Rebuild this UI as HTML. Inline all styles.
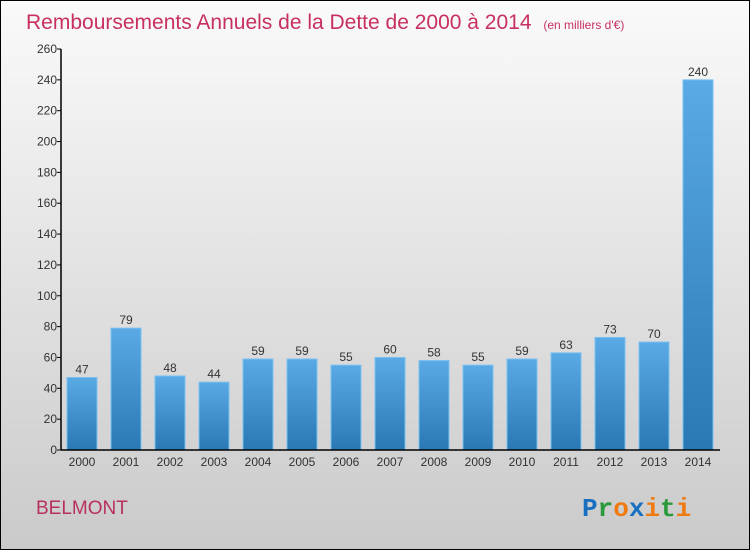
<!DOCTYPE html>
<html><head><meta charset="utf-8"><style>
body{margin:0;}
#wrap{width:750px;height:550px;position:relative;font-family:"Liberation Sans",sans-serif;}
</style></head><body>
<div id="wrap">
<svg id="svg" width="750" height="550" xmlns="http://www.w3.org/2000/svg">
<defs>
<linearGradient id="bg" x1="0" y1="0" x2="0" y2="1"><stop offset="0" stop-color="#fafafa"/><stop offset="1" stop-color="#cacaca"/></linearGradient>
<linearGradient id="bar" x1="0" y1="0" x2="0" y2="1"><stop offset="0" stop-color="#5aaae6"/><stop offset="1" stop-color="#2a78b4"/></linearGradient>
</defs>
<rect x="0.5" y="0.5" width="749" height="549" fill="url(#bg)" stroke="#000"/>
<text x="26" y="29" font-size="21" fill="#c8305f">Remboursements Annuels de la Dette de 2000 à 2014 <tspan font-size="12" dx="6">(en milliers d'€)</tspan></text>
<g id="plot"></g>
<text x="36" y="514" font-size="19" fill="#b8305f">BELMONT</text>
<text x="582" y="516" font-size="26" font-weight="bold" font-family="Liberation Mono, monospace"><tspan fill="#1a70c0">P</tspan><tspan fill="#2a9a3a">r</tspan><tspan fill="#f07a10">o</tspan><tspan fill="#1a70c0">x</tspan><tspan fill="#f07a10">i</tspan><tspan fill="#2a9a3a">t</tspan><tspan fill="#f07a10">i</tspan></text>
</svg>
</div>
<script>
const categories=["2000","2001","2002","2003","2004","2005","2006","2007","2008","2009","2010","2011","2012","2013","2014"];
const values=[47,79,48,44,59,59,55,60,58,55,59,63,73,70,240];
const yTicks=[0,20,40,60,80,100,120,140,160,180,200,220,240,260];
const NS="http://www.w3.org/2000/svg";
const g=document.getElementById('plot');
const y0=450,yTop=49,yMax=260,xLeft=61,xRight=720;
function y(v){return y0-(v/yMax)*(y0-yTop);}
function x(i){return 67+i*44;}
function mk(t,a,txt){const e=document.createElementNS(NS,t);for(const k in a)e.setAttribute(k,a[k]);if(txt!==undefined)e.textContent=txt;g.appendChild(e);return e;}
yTicks.forEach(t=>{
 const l=mk('line',{x1:xLeft-4,x2:xLeft,y1:y(t),y2:y(t),stroke:'#000'});
 
 
 const tx=mk('text',{x:xLeft-4,y:y(t)+4,'font-size':12,'text-anchor':'end',fill:'#333'},t);
 
 
});
values.forEach((v,i)=>{
 const r=mk('rect',{x:x(i),y:y(v),width:30,height:y0-y(v),fill:'url(#bar)',stroke:'#7cc0f0','stroke-width':1});
 
 
 const vl=mk('text',{x:x(i)+15,y:y(v)-4,'font-size':12,'text-anchor':'middle',fill:'#333'},v);
 
 
 const cl=mk('text',{x:x(i)+15,y:466,'font-size':12,'text-anchor':'middle',fill:'#333'},categories[i]);
 
 
});
const ya=mk('line',{x1:xLeft,x2:xLeft,y1:yTop,y2:y0,stroke:'#000','stroke-width':1.5});


const xa=mk('line',{x1:xLeft,x2:xRight,y1:y0,y2:y0,stroke:'#000','stroke-width':1.5});


</script>
</body></html>
